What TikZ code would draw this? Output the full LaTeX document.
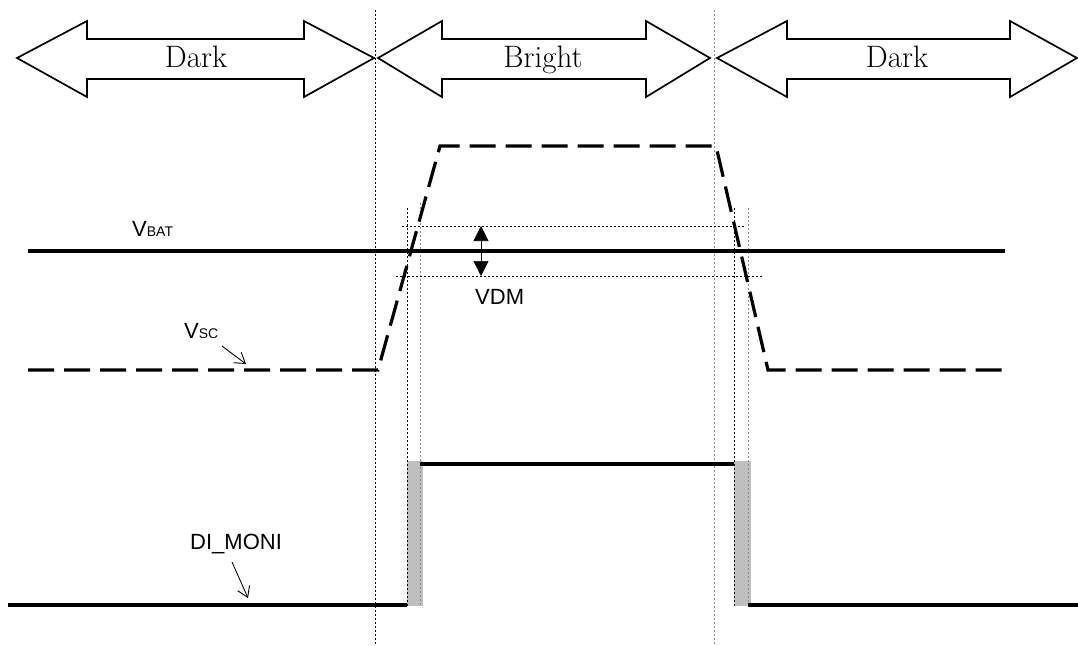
\documentclass[tikz,border=0pt]{standalone}
\usepackage{fontspec}
\newfontfamily\labelfont{Liberation Sans}
\usetikzlibrary{arrows.meta}
\tikzset{
  blockarr/.style={draw=black, line width=1.7pt, fill=white, line join=miter},
  zonetext/.style={font=\fontsize{31}{35}\selectfont, inner sep=0pt},
  siglabel/.style={font=\labelfont\fontsize{22}{24}\selectfont, inner sep=0pt, anchor=base west},
  solidsig/.style={line width=3.2pt},
  dashsig/.style={line width=3.2pt, dash pattern=on 26pt off 10pt},
  guide/.style={line width=0.8pt, dash pattern=on 2pt off 2pt},
  guidegray/.style={guide, draw=black!45},
  pointer/.style={line width=0.9pt, -{Straight Barb[length=10pt,width=13pt,line width=0.9pt]}},
  dimarrow/.style={line width=0.7pt, {Triangle[length=15pt,width=15pt]}-{Triangle[length=15pt,width=15pt]}},
  grayband/.style={fill=black!25, draw=none}
}
\newcommand{\zonearrow}[4]{%
  \draw[blockarr] (#1,58) -- (#2,21) -- (#2,39) -- (#3,39) -- (#3,21) -- (#4,58)
    -- (#3,97) -- (#3,79) -- (#2,79) -- (#2,97) -- cycle;}
\begin{document}
\begin{tikzpicture}[x=1pt,y=-1pt]
\useasboundingbox[fill=white] (0,0) rectangle (1078,645);

% gray bands
\fill[grayband] (406.5,461) rectangle (422.5,606);
\fill[grayband] (734,461) rectangle (750.5,606);

% main region dividers
\draw[guide] (375,10) -- (375,645);
\draw[guidegray] (714,10) -- (714,645);

% inner guides
\draw[guide] (407,208) -- (407,606);
\draw[guidegray] (420,203) -- (420,606);
\draw[guide] (734,208) -- (734,606);
\draw[guidegray] (748,208) -- (748,606);
\draw[guide] (402,226) -- (745,226);
\draw[guide] (396,276) -- (763,276);

% block arrows
\zonearrow{17}{87}{304}{374}
\zonearrow{378}{442}{646}{710}
\zonearrow{717}{787}{1010}{1077}
\node[zonetext, anchor=base] (dark1) at (196,67) {Dark};
\node[zonetext, anchor=base] (bright) at (543,67) {Bright};
\node[zonetext, anchor=base] (dark2) at (897,67) {Dark};

% VBAT
\draw[solidsig] (28,251) -- (1005,251);
\node[siglabel] (vbat) at (132,236) {V\raisebox{-0.5pt}{\fontsize{14}{15}\selectfont BAT}};

% VSC
\draw[dashsig] (28,370) -- (378,370) -- (440,146) -- (716,146) -- (768,370) -- (1005,370);
\node[siglabel] (vsc) at (184,338) {V\raisebox{-0.5pt}{\fontsize{14}{15}\selectfont SC}};
\coordinate (vscA) at (222,346);
\coordinate (vscB) at (246,364);
\draw[pointer] (vscA) -- (vscB);

% VDM
\coordinate (vdmTop) at (481,226);
\coordinate (vdmBot) at (481,276);
\draw[dimarrow] (vdmTop) -- (vdmBot);
\node[siglabel] (vdm) at (475,304) {VDM};

% DI_MONI
\draw[solidsig] (8,605) -- (407,605);
\draw[solidsig] (420,464) -- (734,464);
\draw[solidsig] (748,605) -- (1078,605);
\node[siglabel] (dimoni) at (190,549) {DI\_MONI};
\coordinate (dmA) at (232,562);
\coordinate (dmB) at (248,598);
\draw[pointer] (dmA) -- (dmB);
\end{tikzpicture}
\end{document}
